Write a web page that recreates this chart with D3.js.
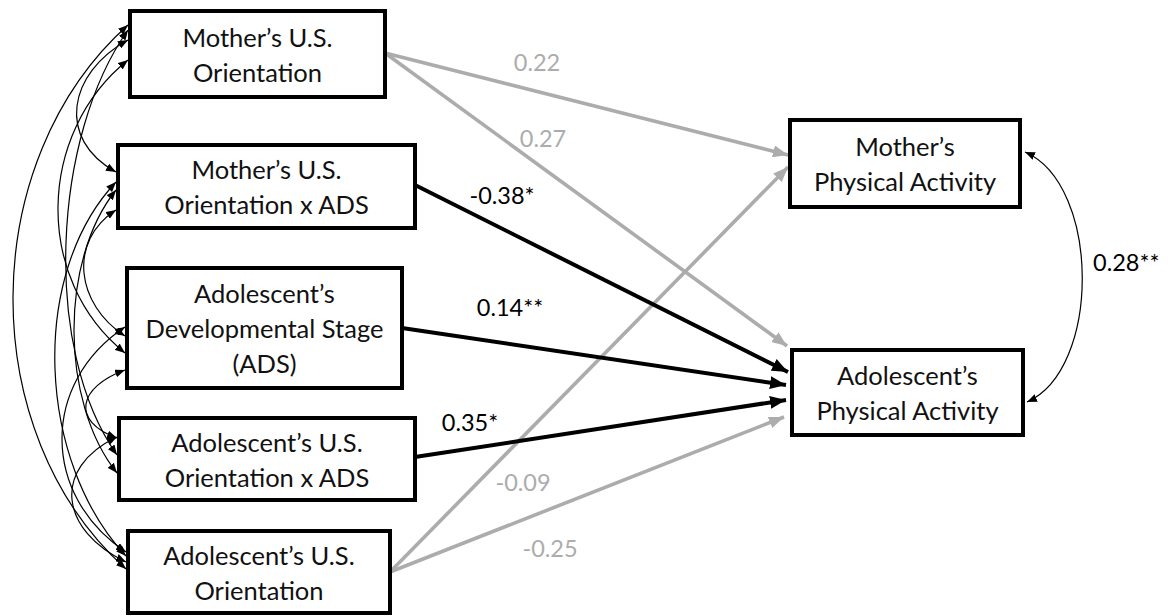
<!DOCTYPE html>
<html>
<head>
<meta charset="utf-8">
<script src="https://cdn.jsdelivr.net/npm/d3@7/dist/d3.min.js"></script>
<style>
  html, body { margin: 0; padding: 0; background: #fff; }
  svg { display: block; }
  text { font-family: Lato, "Open Sans", sans-serif; }
</style>
</head>
<body>
<svg id="chart" width="1168" height="616"></svg>
<script>
// Variables of the path model
const predictors = [
  ["Mother\u2019s U.S.", "Orientation"],
  ["Mother\u2019s U.S.", "Orientation x ADS"],
  ["Adolescent\u2019s", "Developmental Stage", "(ADS)"],
  ["Adolescent\u2019s U.S.", "Orientation x ADS"],
  ["Adolescent\u2019s U.S.", "Orientation"]
];
const outcomes = [
  ["Mother\u2019s", "Physical Activity"],
  ["Adolescent\u2019s", "Physical Activity"]
];

// Standardized path coefficients (predictor index -> outcome index)
const pathFrom  = [0, 0, 1, 2, 3, 4, 4];
const pathTo    = [0, 1, 1, 1, 1, 0, 1];
const pathCoef  = [0.22, 0.27, -0.38, 0.14, 0.35, -0.09, -0.25];
const pathStars = ["", "", "*", "**", "*", "", ""];

// Residual covariance between the two outcomes
const outcomeCov = 0.28;
const outcomeCovStars = "**";

// Box geometry
const predBoxes = [
  {x: 130, y: 11, w: 255, h: 86},
  {x: 118, y: 145, w: 297, h: 83},
  {x: 127, y: 268, w: 275, h: 120},
  {x: 119, y: 418, w: 296, h: 82},
  {x: 128, y: 531, w: 262, h: 82}
];
const outBoxes = [
  {x: 790, y: 120, w: 230, h: 87},
  {x: 792, y: 350, w: 231, h: 85}
];

// Anchor points of the regression arrows and their labels
const pathStart = [[385, 53], [385, 53], [415, 185], [402, 328], [415, 457], [390, 572], [390, 572]];
const pathEnd   = [[788, 155], [787, 346], [788, 372], [786, 385], [786, 400], [788, 167], [784, 417]];
const pathLabelPos = [[537, 62], [543, 138], [502, 195], [510, 307], [470, 422], [523, 482], [550, 548]];

// Predictor covariance arcs: [box a, box b, port y on a, port y on b, leftmost x of arc]
const covPairs = [
  [0, 1, 40, 172, 77],
  [0, 2, 60, 353, 58],
  [0, 3, 30, 455, 66],
  [0, 4, 25, 569, 13],
  [1, 2, 210, 336, 84],
  [1, 3, 190, 473, 74],
  [1, 4, 182, 556, 55],
  [2, 3, 370, 438, 86],
  [2, 4, 327, 552, 62],
  [3, 4, 437, 562, 72]
];

const GRAY = "#acacac";
const svg = d3.select("#chart");
const defs = svg.append("defs");

function addMarker(id, color, len, wid) {
  defs.append("marker")
    .attr("id", id)
    .attr("viewBox", `0 0 ${len} ${wid}`)
    .attr("refX", len).attr("refY", wid / 2)
    .attr("markerWidth", len).attr("markerHeight", wid)
    .attr("markerUnits", "userSpaceOnUse")
    .attr("orient", "auto-start-reverse")
    .append("path")
    .attr("d", `M0,0L${len},${wid / 2}L0,${wid}Z`)
    .attr("fill", color);
}
addMarker("arrBlack", "#000", 16, 13);
addMarker("arrGray", GRAY, 15, 12);
addMarker("arrThin", "#000", 10, 8);

const line = d3.line();

// Predictor covariance arcs
const covG = svg.append("g");
covPairs.forEach(([a, b, ya, yb, xmin]) => {
  const xa = predBoxes[a].x - 2, xb = predBoxes[b].x - 2;
  const dy = yb - ya;
  const k = ((xa + xb) / 2 - xmin) / 0.75;
  const p = d3.path();
  p.moveTo(xa, ya);
  p.bezierCurveTo(xa - k, ya + 0.25 * dy, xb - k, yb - 0.25 * dy, xb, yb);
  covG.append("path")
    .attr("d", p.toString())
    .attr("fill", "none")
    .attr("stroke", "#000")
    .attr("stroke-width", 1.2)
    .attr("marker-start", "url(#arrThin)")
    .attr("marker-end", "url(#arrThin)");
});

// Outcome covariance arc
{
  const p = d3.path();
  p.moveTo(1025, 152);
  p.bezierCurveTo(1101, 185, 1101, 370, 1027, 402);
  svg.append("path")
    .attr("d", p.toString())
    .attr("fill", "none")
    .attr("stroke", "#000")
    .attr("stroke-width", 1.2)
    .attr("marker-start", "url(#arrThin)")
    .attr("marker-end", "url(#arrThin)");
  svg.append("text")
    .attr("x", 1093).attr("y", 262)
    .attr("dominant-baseline", "central")
    .attr("font-size", 23.5)
    .attr("fill", "#000")
    .text(outcomeCov.toFixed(2) + outcomeCovStars);
}

// Regression paths: gray first so black ones sit on top
const pathIdx = d3.range(pathCoef.length)
  .sort((i, j) => (pathStars[i] ? 1 : 0) - (pathStars[j] ? 1 : 0));
const pathG = svg.append("g");
pathIdx.forEach(i => {
  const sig = pathStars[i] !== "";
  pathG.append("path")
    .attr("d", line([pathStart[i], pathEnd[i]]))
    .attr("stroke", sig ? "#000" : GRAY)
    .attr("stroke-width", sig ? 4 : 3.6)
    .attr("fill", "none")
    .attr("marker-end", sig ? "url(#arrBlack)" : "url(#arrGray)");
});
pathIdx.forEach(i => {
  const sig = pathStars[i] !== "";
  pathG.append("text")
    .attr("x", pathLabelPos[i][0]).attr("y", pathLabelPos[i][1])
    .attr("text-anchor", "middle")
    .attr("dominant-baseline", "central")
    .attr("font-size", 23.5)
    .attr("fill", sig ? "#000" : GRAY)
    .text(d3.format(".2f")(pathCoef[i]).replace("\u2212", "-") + pathStars[i]);
});

// Boxes
function drawBox(b, lines) {
  const g = svg.append("g");
  g.append("rect")
    .attr("x", b.x).attr("y", b.y).attr("width", b.w).attr("height", b.h)
    .attr("fill", "#fff").attr("stroke", "#000").attr("stroke-width", 4);
  const lh = 35;
  const cy = b.y + b.h / 2;
  lines.forEach((t, k) => {
    g.append("text")
      .attr("x", b.x + b.w / 2)
      .attr("y", cy + (k - (lines.length - 1) / 2) * lh)
      .attr("text-anchor", "middle")
      .attr("dominant-baseline", "central")
      .attr("font-size", 25.5)
      .attr("fill", "#111")
      .text(t);
  });
}
predBoxes.forEach((b, i) => drawBox(b, predictors[i]));
outBoxes.forEach((b, i) => drawBox(b, outcomes[i]));
</script>
</body>
</html>
